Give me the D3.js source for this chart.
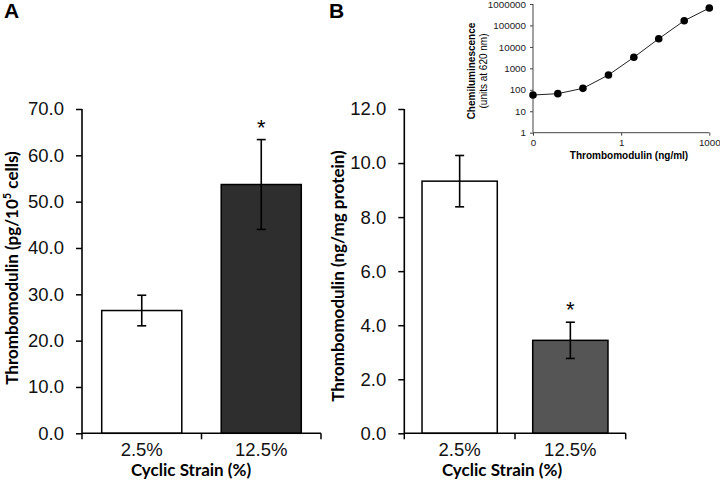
<!DOCTYPE html>
<html>
<head>
<meta charset="utf-8">
<script src="https://cdn.jsdelivr.net/npm/d3@7"></script>
<style>
  body { margin: 0; background: #fff; }
  svg { display: block; }
  .tick text { font-family: "Liberation Sans", Arial, sans-serif; }
  .title { font-family: Lato, "Open Sans", sans-serif; font-weight: bold; }
</style>
</head>
<body>
<div id="chart"></div>
<script>
// panel A
var strainLabels = ["2.5%", "12.5%"];
var tmCells = [26.5, 53.7];
var tmCellsErr = [3.3, 9.7];
var ticksA = [0, 10, 20, 30, 40, 50, 60, 70];

// panel B
var tmProtein = [9.33, 3.44];
var tmProteinErr = [0.95, 0.67];
var ticksB = [0, 2, 4, 6, 8, 10, 12];

// inset: standard curve
var stdConc = [0.001, 0.007, 0.05, 0.37, 2.7, 19, 140, 1000];
var stdSignal = [57, 66, 117, 490, 3270, 24000, 166000, 650000];
var insetYTicks = [1, 10, 100, 1000, 10000, 100000, 1000000];
var insetXTicks = [0.001, 1, 1000];
var insetXLabels = ["0", "1", "1000"];

var svg = d3.select("#chart")
	.append("svg")
	.attr("width", 720)
	.attr("height", 481);

function barPanel(opt) {
	var g = svg.append("g");

	var x = d3.scaleBand()
		.domain(strainLabels)
		.range([opt.x0, opt.x1])
		.paddingInner(opt.pad)
		.paddingOuter(opt.pad / 2);

	var y = d3.scaleLinear()
		.domain([0, opt.max])
		.range([433.3, 109]);

	// bars
	g.selectAll("rect")
		.data(opt.values)
		.enter()
		.append("rect")
		.attr("x", function(d, i) { return x(strainLabels[i]); })
		.attr("y", function(d) { return y(d); })
		.attr("width", x.bandwidth())
		.attr("height", function(d) { return y(0) - y(d); })
		.attr("fill", function(d, i) { return opt.fills[i]; })
		.attr("stroke", "#000")
		.attr("stroke-width", 1.5);

	// error bars
	opt.values.forEach(function(v, i) {
		var cx = x(strainLabels[i]) + x.bandwidth() / 2;
		var e = opt.errs[i];
		g.append("line")
			.attr("x1", cx).attr("x2", cx)
			.attr("y1", y(v + e)).attr("y2", y(v - e))
			.attr("stroke", "#000").attr("stroke-width", 1.6);
		[v + e, v - e].forEach(function(w) {
			g.append("line")
				.attr("x1", cx - 4.5).attr("x2", cx + 4.5)
				.attr("y1", y(w)).attr("y2", y(w))
				.attr("stroke", "#000").attr("stroke-width", 1.6);
		});
		if (i == 1) {
			g.append("text")
				.attr("x", cx)
				.attr("y", y(v + e) - 5)
				.attr("text-anchor", "middle")
				.style("font-family", "Liberation Sans, Arial, sans-serif")
				.style("font-size", "22px")
				.text("*");
		}
	});

	// y axis
	var yAxis = g.append("g")
		.attr("transform", "translate(" + opt.x0 + ",0)")
		.call(d3.axisLeft(y).tickValues(opt.ticks).tickSize(6).tickPadding(12)
			.tickFormat(d3.format(".1f")));
	yAxis.select(".domain").attr("stroke-width", 1.6).attr("d", "M0," + y(opt.max) + "V" + y(0));
	yAxis.selectAll(".tick line").attr("stroke-width", 1.5);
	yAxis.selectAll(".tick text").style("font-size", "18.5px").attr("fill", "#111");

	// x axis with ticks at band edges
	var xb = g.append("g").attr("transform", "translate(0," + y(0) + ")");
	xb.append("line")
		.attr("x1", opt.x0).attr("x2", opt.x1)
		.attr("stroke", "#000").attr("stroke-width", 1.6);
	[opt.x0, (opt.x0 + opt.x1) / 2, opt.x1].forEach(function(t) {
		xb.append("line")
			.attr("x1", t).attr("x2", t).attr("y1", 0).attr("y2", 6)
			.attr("stroke", "#000").attr("stroke-width", 1.5);
	});
	strainLabels.forEach(function(s) {
		xb.append("text")
			.attr("x", x(s) + x.bandwidth() / 2)
			.attr("y", 23)
			.attr("text-anchor", "middle")
			.style("font-family", "Liberation Sans, Arial, sans-serif")
			.style("font-size", "18.5px")
			.attr("fill", "#111")
			.text(s);
	});

	svg.append("text")
		.attr("class", "title")
		.attr("x", opt.xtX)
		.attr("y", 476)
		.attr("text-anchor", "middle")
		.style("font-size", "17px")
		.text("Cyclic Strain (%)");

	var yt = svg.append("text")
		.attr("class", "title")
		.attr("transform", "translate(" + opt.ytX + "," + opt.ytY + ") rotate(-90)")
		.attr("text-anchor", "middle")
		.style("font-size", "17px");
	opt.ytitle(yt);

	svg.append("text")
		.attr("x", opt.letterX)
		.attr("y", 18)
		.style("font-family", "Liberation Sans, Arial, sans-serif")
		.style("font-weight", "bold")
		.style("font-size", "21px")
		.text(opt.letter);
}

barPanel({
	x0: 82, x1: 321, pad: 0.33, max: 70, ticks: ticksA,
	values: tmCells, errs: tmCellsErr, fills: ["#fff", "#2e2e2e"],
	xtX: 191, ytX: 18, ytY: 268, letterX: 4, letter: "A",
	ytitle: function(t) {
		t.append("tspan").text("Thrombomodulin (pg/10");
		t.append("tspan").attr("dy", -7).style("font-size", "11px").text("5");
		t.append("tspan").attr("dy", 7).text(" cells)");
	}
});

barPanel({
	x0: 404.3, x1: 625.7, pad: 0.32, max: 12, ticks: ticksB,
	values: tmProtein, errs: tmProteinErr, fills: ["#fff", "#555"],
	xtX: 502, ytX: 344, ytY: 276, letterX: 329, letter: "B",
	ytitle: function(t) {
		t.text("Thrombomodulin (ng/mg protein)");
	}
});

// inset
var ix = d3.scaleLog().domain([0.001, 1000]).range([533, 709.3]);
var iy = d3.scaleLog().domain([1, 1000000]).range([132.7, 4]);
var inset = svg.append("g");

var iyAxis = inset.append("g")
	.attr("transform", "translate(533,0)")
	.call(d3.axisLeft(iy).tickValues(insetYTicks).tickSize(3).tickPadding(4)
		.tickFormat(d3.format("d")));
iyAxis.select(".domain").attr("stroke", "#444").attr("d", "M0,4V132.7");
iyAxis.selectAll(".tick line").attr("stroke", "#444");
iyAxis.selectAll(".tick text").style("font-size", "9.8px").attr("fill", "#222");

var ixAxis = inset.append("g")
	.attr("transform", "translate(0,132.7)")
	.call(d3.axisBottom(ix).tickValues(insetXTicks).tickSize(3).tickPadding(3)
		.tickFormat(function(d, i) { return insetXLabels[i]; }));
ixAxis.select(".domain").attr("stroke", "#444").attr("d", "M533,0H709.3");
ixAxis.selectAll(".tick line").attr("stroke", "#444");
ixAxis.selectAll(".tick text").style("font-size", "9.8px").attr("fill", "#222");

var pts = stdConc.map(function(c, i) { return [c, stdSignal[i]]; });
inset.append("path")
	.datum(pts)
	.attr("d", d3.line().x(function(d) { return ix(d[0]); }).y(function(d) { return iy(d[1]); }))
	.attr("fill", "none")
	.attr("stroke", "#222")
	.attr("stroke-width", 1);
inset.selectAll("circle")
	.data(pts)
	.enter()
	.append("circle")
	.attr("cx", function(d) { return ix(d[0]); })
	.attr("cy", function(d) { return iy(d[1]); })
	.attr("r", 3.8)
	.attr("fill", "#000");

inset.append("text")
	.attr("x", 629)
	.attr("y", 159)
	.attr("text-anchor", "middle")
	.style("font-family", "Liberation Sans, Arial, sans-serif")
	.style("font-weight", "bold")
	.style("font-size", "10px")
	.text("Thrombomodulin (ng/ml)");

var iyt = inset.append("text")
	.attr("transform", "translate(475,71) rotate(-90)")
	.attr("text-anchor", "middle")
	.style("font-family", "Liberation Sans, Arial, sans-serif")
	.style("font-size", "10px");
iyt.append("tspan").attr("x", 0).style("font-weight", "bold").text("Chemiluminescence");
iyt.append("tspan").attr("x", 0).attr("dy", 12).text("(units at 620 nm)");
</script>
</body>
</html>
